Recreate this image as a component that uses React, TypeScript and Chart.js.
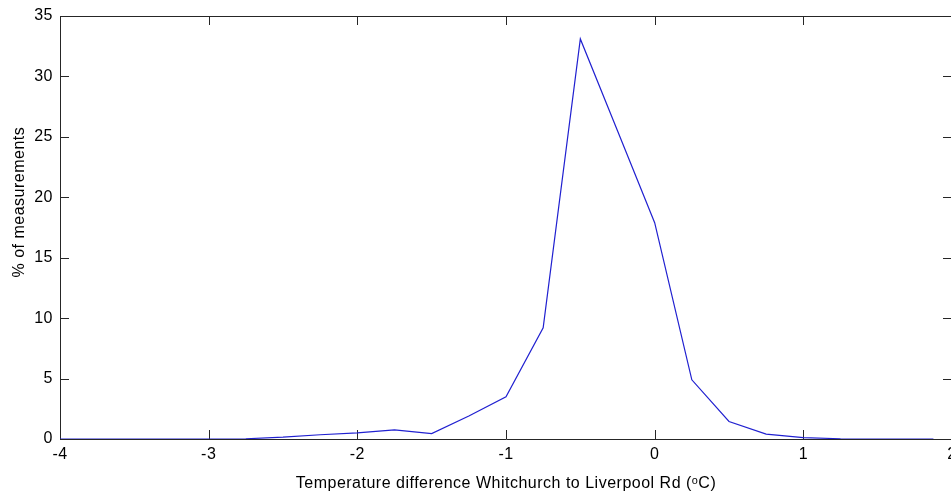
import React, { useEffect, useRef } from "react";
import { Chart, registerables } from "chart.js";

Chart.register(...registerables);

const tempDiff: number[] = [
  -4, -3.75, -3.5, -3.25, -3, -2.75, -2.5, -2.25, -2, -1.75, -1.5, -1.25, -1,
  -0.75, -0.5, -0.25, 0, 0.25, 0.5, 0.75, 1, 1.25, 1.5, 1.75, 1.875,
];
const pctMeasurements: number[] = [
  0, 0, 0, 0, 0, 0.02, 0.15, 0.35, 0.5, 0.75, 0.45, 1.9, 3.5,
  9.2, 33.1, 25.5, 17.9, 4.9, 1.45, 0.4, 0.12, 0.02, 0, 0, 0,
];
const xTickStep = 1;
const yTickStep = 5;
const xTitle = "Temperature difference Whitchurch to Liverpool Rd (ᵒC)";
const yTitle = "% of measurements";

const FONT = '"Liberation Sans", Arial, Helvetica, sans-serif';
const TICK_LEN = 9;

const spacingPlugin = {
  id: "letterSpacing",
  beforeDraw(chart: any) {
    chart.ctx.letterSpacing = "0.5px";
  },
};

const yTitlePlugin = {
  id: "yTitle",
  afterDraw(chart: any) {
    const { ctx, chartArea } = chart;
    ctx.save();
    ctx.letterSpacing = "0.5px";
    ctx.fillStyle = "#000";
    ctx.font = `16px ${FONT}`;
    ctx.textAlign = "center";
    ctx.textBaseline = "middle";
    ctx.translate(20, chartArea.top + (chartArea.bottom - chartArea.top) * 0.44);
    ctx.rotate(-Math.PI / 2);
    ctx.fillText(yTitle, 0, 0);
    ctx.restore();
  },
};

const framePlugin = {
  id: "matlabFrame",
  beforeDatasetsDraw(chart: any) {
    const { ctx, chartArea, scales } = chart;
    const { left, right, top, bottom } = chartArea;
    ctx.save();
    ctx.strokeStyle = "#262626";
    ctx.lineWidth = 1;
    ctx.beginPath();
    ctx.rect(left + 0.5, top + 0.5, right - left, bottom - top);
    ctx.stroke();
    ctx.beginPath();
    for (const t of scales.x.ticks) {
      const px = Math.round(scales.x.getPixelForValue(t.value)) + 0.5;
      ctx.moveTo(px, bottom);
      ctx.lineTo(px, bottom - TICK_LEN);
      ctx.moveTo(px, top);
      ctx.lineTo(px, top + TICK_LEN);
    }
    for (const t of scales.y.ticks) {
      const py = Math.round(scales.y.getPixelForValue(t.value)) + 0.5;
      ctx.moveTo(left, py);
      ctx.lineTo(left + TICK_LEN, py);
      ctx.moveTo(right, py);
      ctx.lineTo(right - TICK_LEN, py);
    }
    ctx.stroke();
    ctx.restore();
  },
};

export default function App() {
  const ref = useRef<HTMLCanvasElement | null>(null);

  useEffect(() => {
    document.body.style.margin = "0";
    document.body.style.overflow = "hidden";
    const canvas = ref.current;
    if (!canvas) return;
    const points = tempDiff.map((x, i) => ({ x, y: pctMeasurements[i] }));
    const chart = new Chart(canvas, {
      type: "line",
      data: {
        datasets: [
          {
            data: points,
            borderColor: "#2020d0",
            borderWidth: 1.2,
            pointRadius: 0,
            tension: 0,
            fill: false,
          },
        ],
      },
      options: {
        animation: false,
        responsive: false,
        devicePixelRatio: 1,
        layout: {
          autoPadding: false,
          padding: { top: 16, left: 0, right: 1, bottom: 0 },
        },
        plugins: {
          legend: { display: false },
          tooltip: { enabled: false },
        },
        scales: {
          x: {
            type: "linear",
            min: -4,
            max: 2,
            grid: { display: false, drawTicks: false },
            border: { display: false },
            ticks: {
              stepSize: xTickStep,
              color: "#000",
              font: { family: FONT, size: 16 },
              padding: 6,
              maxRotation: 0,
            },
            title: {
              display: true,
              text: xTitle,
              color: "#000",
              font: { family: FONT, size: 16 },
              padding: { top: 0, bottom: 2 },
            },
            afterFit(scale: any) {
              scale.height = 56;
              scale.paddingLeft = 0;
              scale.paddingRight = 0;
              scale.paddingTop = 0;
              scale.paddingBottom = 0;
            },
          },
          y: {
            type: "linear",
            min: 0,
            max: 35,
            grid: { display: false, drawTicks: false },
            border: { display: false },
            ticks: {
              stepSize: yTickStep,
              color: "#000",
              font: { family: FONT, size: 16 },
              padding: 7,
            },
            title: { display: false, text: yTitle },
            afterFit(scale: any) {
              scale.width = 60;
              scale.paddingLeft = 0;
              scale.paddingRight = 0;
              scale.paddingTop = 0;
              scale.paddingBottom = 0;
            },
          },
        },
      },
      plugins: [spacingPlugin, framePlugin, yTitlePlugin],
    });
    return () => chart.destroy();
  }, []);

  return (
    <div style={{ width: 951, height: 495, overflow: "hidden", background: "#fff" }}>
      <canvas ref={ref} width={953} height={495} style={{ display: "block" }} />
    </div>
  );
}
